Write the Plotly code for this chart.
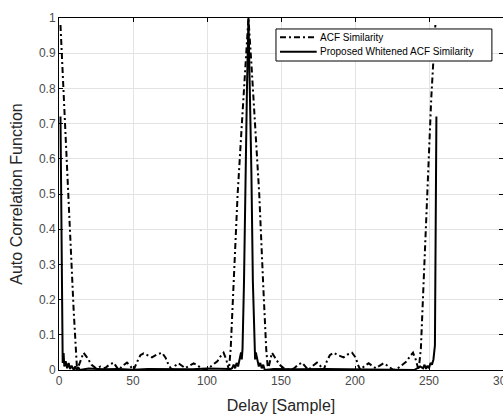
import plotly.graph_objects as go

# ---- data ----
acf_x = [1, 3.6, 6, 9.9, 12.2, 14, 16.6, 19, 22, 25, 28, 31, 34, 36.9, 38.5, 40.3,
         43, 45.9, 48, 50.4, 53, 55, 57.2, 60, 62.8, 66, 69.6, 72, 74, 76.3, 78.5,
         80.8, 83, 85.3, 88, 91, 94, 96, 98.9, 101, 104, 107, 109, 111.2, 113, 114.8,
         116, 118, 120.7, 124, 126, 128, 130, 132, 135.3, 138, 140, 141.2,
         143.9, 146, 149, 152, 156, 159, 161.5, 164.2, 166, 168.5, 171.5, 174.3, 176.5,
         178.8, 181, 183, 185.5, 188.5, 192.3, 195, 198, 200.5, 202, 203.6, 206.5, 209.2,
         211.5, 214, 216.5, 219.3, 222, 224, 226, 229, 232, 235, 237, 239.2, 241, 243,
         244.5, 248.6, 251.5, 254.3]
acf_y = [0.98, 0.74, 0.52, 0.17, 0.0, 0.02, 0.049, 0.035, 0.015, 0.005, 0.01, 0.005, 0.015, 0.021, 0.012, 0.0,
         0.012, 0.021, 0.012, 0.0, 0.025, 0.042, 0.047, 0.042, 0.036, 0.044, 0.049, 0.035, 0.015, 0.0, 0.012,
         0.019, 0.012, 0.005, 0.012, 0.019, 0.012, 0.005, 0.0, 0.005, 0.015, 0.025, 0.038, 0.049, 0.03, 0.0,
         0.06, 0.24, 0.5, 0.73, 0.87, 1.0, 0.87, 0.73, 0.5, 0.24, 0.06, 0.0,
         0.049, 0.035, 0.015, 0.005, 0.0, 0.005, 0.015, 0.021, 0.012, 0.0, 0.012, 0.021, 0.012,
         0.0, 0.025, 0.042, 0.049, 0.042, 0.036, 0.044, 0.049, 0.035, 0.015, 0.0, 0.012, 0.019,
         0.012, 0.005, 0.012, 0.019, 0.012, 0.005, 0.0, 0.005, 0.015, 0.025, 0.038, 0.049, 0.03, 0.0,
         0.06, 0.5, 0.77, 0.98]

wacf_x = [1, 2, 2.5, 3.1, 3.6, 4.5, 5.5, 6.5, 7.5, 8.5, 10, 11, 12, 13, 14, 20, 30, 40, 50,
          60, 70, 80, 90, 100, 110, 116, 117, 118, 119, 120, 121, 122, 123, 123.5, 124, 125,
          126, 127, 128, 129, 130, 131, 132, 132.5, 133, 134, 135, 136, 137, 138, 139, 145,
          160, 180, 200, 220, 235, 240, 242, 244, 246, 247, 248, 249, 250, 251, 252, 253, 254, 255]
wacf_y = [0.72, 0.04, 0.02, 0.048, 0.01, 0.025, 0.005, 0.02, 0.003, 0.012, 0.0, 0.01, 0.0, 0.008, 0.0, 0.004,
          0.002, 0.003, 0.001, 0.003, 0.002, 0.003, 0.002, 0.004, 0.003, 0.003, 0.005, 0.015, 0.005, 0.02, 0.01,
          0.03, 0.05, 0.03, 0.06, 0.25, 0.56, 0.8, 1.0, 0.8, 0.56, 0.25, 0.06, 0.03, 0.05, 0.03, 0.01,
          0.02, 0.005, 0.015, 0.0, 0.003, 0.002, 0.003, 0.002, 0.003, 0.002, 0.0, 0.005, 0.01, 0.005,
          0.015, 0.003, 0.012, 0.005, 0.02, 0.015, 0.03, 0.07, 0.72]

series_names = ["ACF Similarity", "Proposed Whitened ACF Similarity"]
x_ticks = [0, 50, 100, 150, 200, 250, 300]
y_ticks = [0, 0.1, 0.2, 0.3, 0.4, 0.5, 0.6, 0.7, 0.8, 0.9, 1]
y_tick_text = ["0", "0.1", "0.2", "0.3", "0.4", "0.5", "0.6", "0.7", "0.8", "0.9", "1"]

FONT = "Liberation Sans, Arial, sans-serif"
DASHDOT = "6px,3px,2px,3px"
styles = [dict(color="black", width=2, dash=DASHDOT), dict(color="black", width=2)]

fig = go.Figure()
fig.add_trace(go.Scatter(x=acf_x, y=acf_y, mode="lines", name=series_names[0], line=styles[0]))
fig.add_trace(go.Scatter(x=wacf_x, y=wacf_y, mode="lines", name=series_names[1], line=styles[1]))

axis_common = dict(showline=True, linecolor="black", linewidth=1, mirror="ticks",
                   ticks="inside", ticklen=4, tickcolor="black", showgrid=True,
                   gridcolor="#e3e3e3", gridwidth=1, zeroline=False, automargin=False,
                   tickfont=dict(family=FONT, size=12, color="#4a4a4a"))

fig.update_xaxes(range=[0, 300], tickvals=x_ticks, ticklabeloverflow="allow",
                 title=dict(text="Delay [Sample]", font=dict(family=FONT, size=16, color="#262626"),
                            standoff=12),
                 **axis_common)
fig.update_yaxes(range=[0, 1], tickvals=y_ticks, ticktext=y_tick_text,
                 title=dict(text="Auto Correlation Function", font=dict(family=FONT, size=16, color="#262626"),
                            standoff=12),
                 **axis_common)

# legend box drawn in the style of the reference (compact, boxed)
leg_x0, leg_x1, leg_y0, leg_y1 = 0.4887, 0.975, 0.8778, 0.9688
row_y = [0.9451, 0.9043]
shapes = [dict(type="rect", xref="paper", yref="paper", x0=leg_x0, x1=leg_x1, y0=leg_y0, y1=leg_y1,
               line=dict(color="black", width=1), fillcolor="white", layer="above")]
annotations = []
for name, st, ry in zip(series_names, styles, row_y):
    shapes.append(dict(type="line", xref="paper", yref="paper", x0=0.4977, x1=0.5804, y0=ry, y1=ry,
                       line=st, layer="above"))
    annotations.append(dict(xref="paper", yref="paper", x=0.5833, y=ry, text=name, showarrow=False,
                            xanchor="left", yanchor="middle",
                            font=dict(family=FONT, size=10, color="black")))

fig.update_layout(
    width=503, height=415,
    margin=dict(l=59, r=0, t=18, b=45),
    paper_bgcolor="white", plot_bgcolor="white",
    showlegend=False,
    shapes=shapes, annotations=annotations,
)

fig.write_html("out.html")
